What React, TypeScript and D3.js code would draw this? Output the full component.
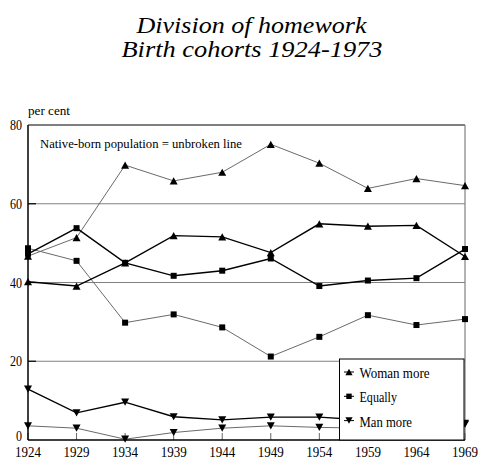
import React from 'react';
import * as d3 from 'd3';

const years = [1924, 1929, 1934, 1939, 1944, 1949, 1954, 1959, 1964, 1969];
const yTicks = [0, 20, 40, 60, 80];

// native-born = thick black, immigrants = thin gray
const womanNative = [40.2, 39.1, 45.0, 51.9, 51.6, 47.6, 54.9, 54.3, 54.5, 46.6];
const womanImmigrant = [46.7, 51.4, 69.8, 65.8, 68.0, 75.1, 70.3, 63.9, 66.4, 64.6];
const equallyNative = [47.3, 53.8, 45.0, 41.7, 43.0, 46.1, 39.1, 40.5, 41.1, 48.5];
const equallyImmigrant = [48.7, 45.5, 29.8, 31.9, 28.6, 21.2, 26.2, 31.7, 29.2, 30.7];
const manNative = [12.9, 6.9, 9.6, 5.9, 5.1, 5.8, 5.8, 5.0, 4.6, 4.2];
const manImmigrant = [3.6, 3.0, 0.2, 1.9, 3.0, 3.6, 3.2, 3.0, 3.4, 4.0];

const legendItems = [
  { label: 'Woman more', marker: 'up', len: 70 },
  { label: 'Equally', marker: 'square', len: 37.5 },
  { label: 'Man more', marker: 'down', len: 52.5 },
];

const width = 480;
const height = 459;
const margin = { top: 125, right: 15, bottom: 19, left: 28 };
const font = "'Liberation Serif', serif";

const x = d3.scaleLinear().domain([1924, 1969]).range([margin.left, width - margin.right]);
const y = d3.scaleLinear().domain([0, 80]).range([height - margin.bottom, margin.top]);

const Marker = ({ type, cx, cy, s = 1 }) => {
  if (type === 'square') {
    const h = 3 * s;
    return <rect x={cx - h} y={cy - h} width={h * 2} height={h * 2} fill="#000" />;
  }
  const w = 4 * s;
  const h = 3.6 * s;
  const d = type === 'up'
    ? `M${cx},${cy - h}L${cx + w},${cy + h}L${cx - w},${cy + h}Z`
    : `M${cx},${cy + h}L${cx + w},${cy - h}L${cx - w},${cy - h}Z`;
  return <path d={d} fill="#000" />;
};

const series = [
  { values: womanImmigrant, marker: 'up', native: false },
  { values: equallyImmigrant, marker: 'square', native: false },
  { values: manImmigrant, marker: 'down', native: false },
  { values: womanNative, marker: 'up', native: true },
  { values: equallyNative, marker: 'square', native: true },
  { values: manNative, marker: 'down', native: true },
];

const line = d3.line<number>()
  .x((d, i) => x(years[i]))
  .y(d => y(d));

export default function App() {
  const x0 = margin.left;
  const x1 = width - margin.right;
  const lg = { x: 339.5, y: 359, w: 124.5, h: 81 };
  const ts = { fontFamily: font };
  const fit = { lengthAdjust: 'spacingAndGlyphs' };
  return (
    <svg width={width} height={height}
      style={{ position: 'absolute', left: 0, top: 0, background: '#fff' }}>
      <text x={136.5} y={33} fontSize={23} fontStyle="italic" style={ts} textLength={230} {...fit}>Division of homework</text>
      <text x={121.5} y={57} fontSize={23} fontStyle="italic" style={ts} textLength={261} {...fit}>Birth cohorts 1924-1973</text>

      <text x={28} y={115} fontSize={12.5} style={ts} textLength={42} {...fit}>per cent</text>

      {/* grid */}
      {yTicks.filter(t => t > 0 && t < 80).map(t => (
        <g key={t}>
          <line x1={x0} x2={x1} y1={y(t)} y2={y(t)} stroke="#808080" strokeWidth={1.2} />
          <line x1={x0} x2={x0 + 8} y1={y(t)} y2={y(t)} stroke="#000" strokeWidth={1.2} />
        </g>
      ))}
      <line x1={x0} x2={x1} y1={y(80)} y2={y(80)} stroke="#000" strokeWidth={1.2} />
      <line x1={x1} x2={x1} y1={y(80)} y2={y(0)} stroke="#808080" strokeWidth={1.2} />

      {/* x ticks */}
      {years.map(yr => (
        <line key={yr} x1={x(yr)} x2={x(yr)} y1={y(0)} y2={y(0) - 7} stroke="#666" strokeWidth={1} />
      ))}

      {yTicks.map(t => (
        <text key={t} x={t === 0 ? 16 : 10} y={y(t) + (t === 0 ? 1 : 5)} fontSize={14.5} style={ts}
          textLength={t === 0 ? 6 : 12} {...fit}>{t}</text>
      ))}
      {years.map(yr => (
        <text key={yr} x={x(yr) - 13} y={457} fontSize={14.5} style={ts} textLength={26} {...fit}>{yr}</text>
      ))}

      {series.map((s, i) => (
        <path key={i} d={line(s.values) || ''} fill="none"
          stroke={s.native ? '#000' : '#6a6a6a'} strokeWidth={s.native ? 1.4 : 1} />
      ))}
      {series.map((s, i) => (
        <g key={i}>
          {s.values.map((v, j) => (
            <Marker key={j} type={s.marker} cx={x(years[j])} cy={y(v)} />
          ))}
        </g>
      ))}

      <line x1={x0} x2={x0} y1={y(80)} y2={y(0)} stroke="#000" strokeWidth={1.5} />
      <line x1={x0} x2={x1} y1={y(0)} y2={y(0)} stroke="#000" strokeWidth={1.5} />

      <text x={40} y={148} fontSize={13.5} style={ts} textLength={202} {...fit}>Native-born population = unbroken line</text>

      {/* legend */}
      <rect x={lg.x} y={lg.y} width={lg.w} height={lg.h} fill="#fff" stroke="#000" strokeWidth={1} />
      {legendItems.map((it, i) => {
        const cy = 372 + i * 24.3;
        return (
          <g key={it.label}>
            <line x1={344} x2={354} y1={cy} y2={cy} stroke="#000" strokeWidth={1} />
            <Marker type={it.marker} cx={349} cy={cy} s={0.9} />
            <text x={359.5} y={cy + 6} fontSize={14} style={ts} textLength={it.len} {...fit}>{it.label}</text>
          </g>
        );
      })}
    </svg>
  );
}
